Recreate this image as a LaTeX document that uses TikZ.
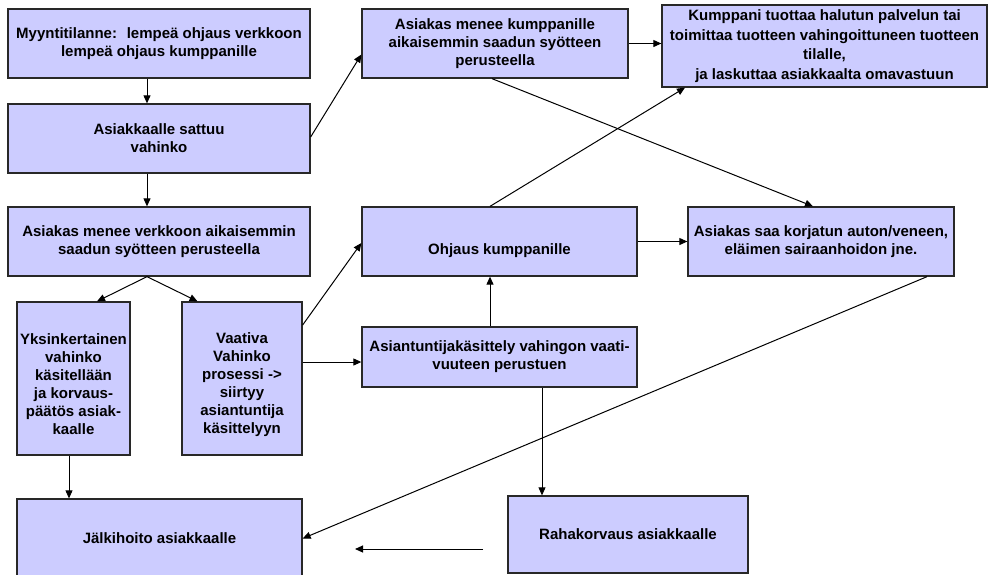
\documentclass[tikz,border=0pt]{standalone}
\usepackage{fontspec}
\setmainfont{Liberation Sans}
\usetikzlibrary{arrows.meta}
\definecolor{boxfill}{RGB}{204,204,255}
\definecolor{boxline}{RGB}{40,40,40}
\tikzset{
  box/.style={draw=boxline, line width=1.3pt, fill=boxfill, rectangle, inner sep=0pt,
    align=center, font=\fontsize{15}{18}\selectfont\bfseries},
  txt/.style={align=center, inner sep=0pt, font=\fontsize{15}{18}\selectfont\bfseries},
  arr/.style={draw=black, line width=1pt, -{Triangle[length=8pt,width=7pt]}},
  thinarr/.style={draw=black, line width=0.8pt, -{Triangle[length=8pt,width=7pt]}}
}
\begin{document}
\begin{tikzpicture}[x=1pt,y=-1pt]
\useasboundingbox (0,0) rectangle (988,574);
% boxes
\node[box, minimum width=302pt, minimum height=69pt] (A) at (159,43.5)
  {Myyntitilanne:~ lempeä ohjaus verkkoon\\lempeä ohjaus kumppanille};
\node[box, minimum width=302pt, minimum height=69pt] (B) at (159,138.5)
  {Asiakkaalle sattuu\\vahinko};
\node[box, minimum width=266pt, minimum height=69pt] (C) at (495,43.5)
  {Asiakas menee kumppanille\\aikaisemmin saadun syötteen\\perusteella};
\node[box, minimum width=325pt, minimum height=82pt, font=\fontsize{15}{19.5}\selectfont\bfseries] (D) at (824.5,46)
  {Kumppani tuottaa halutun palvelun tai\\toimittaa tuotteen vahingoittuneen tuotteen\\tilalle,\\ja laskuttaa asiakkaalta omavastuun};
\node[box, minimum width=302pt, minimum height=69pt] (E) at (159,241.5)
  {Asiakas menee verkkoon aikaisemmin\\saadun syötteen perusteella};
\node[box, minimum width=113pt, minimum height=153pt] (F) at (73.5,378.5) {};
\node[txt] (Ft) at ([yshift=-6pt]F.center)
  {Yksinkertainen\\vahinko\\käsitellään\\ja korvaus-\\päätös asiak-\\kaalle};
\node[box, minimum width=120pt, minimum height=153pt] (G) at (242,378.5) {};
\node[txt] (Gt) at ([yshift=-6pt]G.center)
  {Vaativa\\Vahinko\\prosessi ->\\siirtyy\\asiantuntija\\käsittelyyn};
\node[box, minimum width=275pt, minimum height=60pt] (H) at (499.5,357)
  {Asiantuntijakäsittely vahingon vaati-\\vuuteen perustuen};
\node[box, minimum width=275pt, minimum height=69pt] (I) at (499.5,241.5) {};
\node[txt] (It) at ([yshift=-9.5pt]I.center) {Ohjaus kumppanille};
\node[box, minimum width=266pt, minimum height=69pt] (J) at (821,241.5)
  {Asiakas saa korjatun auton/veneen,\\eläimen sairaanhoidon jne.};
\node[box, minimum width=285pt, minimum height=79pt] (K) at (159.5,538.5)
  {Jälkihoito asiakkaalle};
\node[box, minimum width=240pt, minimum height=77pt] (L) at (628,534.5)
  {Rahakorvaus asiakkaalle};
% free arrow ends
\coordinate (fs) at (483,549);
\coordinate (fe) at (355,549);
% connectors
\draw[arr] ([xshift=-12pt]A.south) -- ([xshift=-12pt]B.north);
\draw[arr] ([xshift=-12pt]B.south) -- ([xshift=-12pt]E.north);
\draw[arr] ([yshift=1.5pt]B.east) -- ([yshift=-11pt]C.west);
\draw[arr] (C.east) -- (C.east -| D.west);
\draw[arr] ([xshift=-3pt]C.south) -- ([xshift=-8pt]J.north);
\draw[arr] ([xshift=-9.5pt]I.north) -- ([xshift=-139.5pt]D.south);
\draw[arr] ([xshift=-12pt]E.south) -- ([xshift=23.5pt]F.north);
\draw[arr] ([xshift=-12pt]E.south) -- ([xshift=-44.5pt]G.north);
\draw[arr] ([yshift=53.5pt]G.east) -- ([yshift=-1.5pt]I.west);
\draw[arr] ([yshift=-5pt]H.west -| G.east) -- ([yshift=-5pt]H.west);
\draw[arr] ([xshift=-9.5pt]H.north) -- ([xshift=-9.5pt]I.south);
\draw[arr] (I.east) -- (J.west);
\draw[arr] ([xshift=106pt]J.south) -- (K.east);
\draw[thinarr] ([xshift=42.5pt]H.south) -- ([xshift=-86pt]L.north);
\draw[thinarr] ([xshift=-4.5pt]F.south) -- ([xshift=-90.5pt]K.north);
\draw[arr] (fs) -- (fe);
\end{tikzpicture}
\end{document}
